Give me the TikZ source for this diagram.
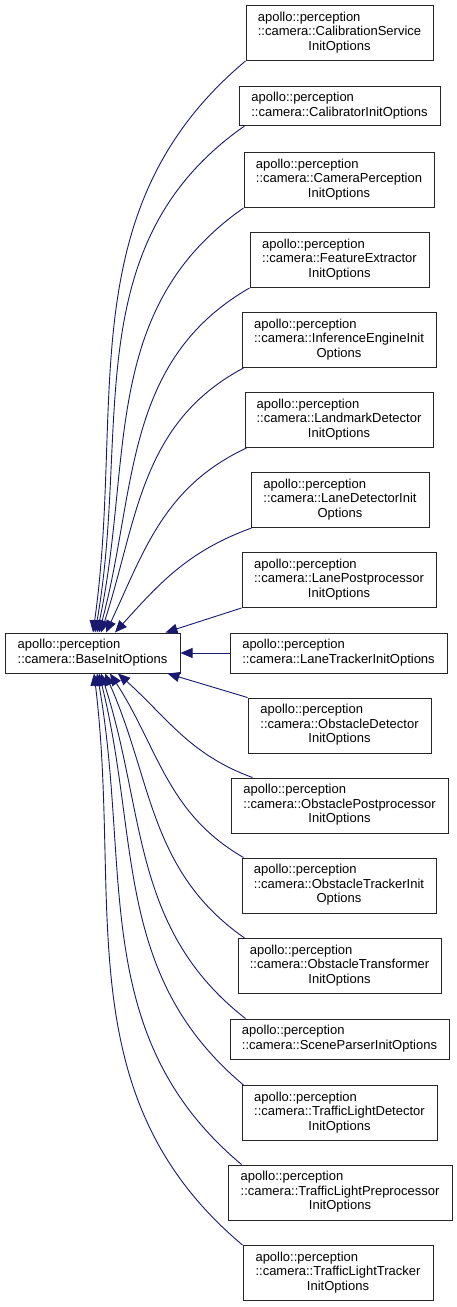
\documentclass[tikz,border=0pt]{standalone}
\usepackage{fontspec}
\setmainfont{Liberation Sans}
\usetikzlibrary{arrows.meta}
\definecolor{edgeblue}{RGB}{25,25,112}
\newcommand{\threel}[2]{\begin{tabular}{@{}l@{}}apollo::perception\\::camera::#1\\\multicolumn{1}{@{}c@{}}{#2}\end{tabular}}
\newcommand{\twol}[1]{\begin{tabular}{@{}l@{}}apollo::perception\\::camera::#1\end{tabular}}
\begin{document}
\begin{tikzpicture}[x=1pt,y=1pt,
  cls/.style={draw=black!85, line width=1pt, fill=white, inner sep=0pt, minimum height=55pt,
    font=\fontsize{13}{14.5}\selectfont},
  cls2/.style={cls, minimum height=40pt},
  edge/.style={draw=edgeblue, line width=0.9pt, {Triangle[length=12pt,width=10pt]}-}
]
\useasboundingbox (0,0) rectangle (456,-1307);
\fill[white] (0,0) rectangle (456,-1307);
\node[cls2, minimum width=175pt] (base) at (92.5,-653) {\twol{BaseInitOptions}};

\node[cls, minimum width=187pt] (d1) at (339.5,-33) {\threel{CalibrationService}{InitOptions}};
\node[cls2, minimum width=201pt, minimum height=39pt] (d2) at (339.5,-106) {\twol{CalibratorInitOptions}};
\node[cls, minimum width=190pt] (d3) at (339,-180) {\threel{CameraPerception}{InitOptions}};
\node[cls, minimum width=179pt] (d4) at (339.5,-260) {\threel{FeatureExtractor}{InitOptions}};
\node[cls, minimum width=194pt] (d5) at (339,-340) {\threel{InferenceEngineInit}{Options}};
\node[cls, minimum width=188pt] (d6) at (339,-420) {\threel{LandmarkDetector}{InitOptions}};
\node[cls, minimum width=178pt] (d7) at (340,-500) {\threel{LaneDetectorInit}{Options}};
\node[cls, minimum width=194pt] (d8) at (339,-580) {\threel{LanePostprocessor}{InitOptions}};
\node[cls2, minimum width=217pt] (d9) at (338.5,-653) {\twol{LaneTrackerInitOptions}};
\node[cls, minimum width=183pt] (d10) at (339.5,-725.5) {\threel{ObstacleDetector}{InitOptions}};
\node[cls, minimum width=217pt] (d11) at (339.5,-805.5) {\threel{ObstaclePostprocessor}{InitOptions}};
\node[cls, minimum width=194pt] (d12) at (339,-885.5) {\threel{ObstacleTrackerInit}{Options}};
\node[cls, minimum width=203pt] (d13) at (339.5,-966) {\threel{ObstacleTransformer}{InitOptions}};
\node[cls2, minimum width=219pt] (d14) at (339.5,-1039) {\twol{SceneParserInitOptions}};
\node[cls, minimum width=195pt] (d15) at (339.5,-1113) {\threel{TrafficLightDetector}{InitOptions}};
\node[cls, minimum width=224pt] (d16) at (340,-1192.5) {\threel{TrafficLightPreprocessor}{InitOptions}};
\node[cls, minimum width=190pt] (d17) at (338,-1273) {\threel{TrafficLightTracker}{InitOptions}};

% upper edges
\draw[edge] ([xshift=-87.5pt]base.north east) to[out=82,in=220] (d1.south west);
\draw[edge] ([xshift=-85.5pt]base.north east) to[out=80,in=215] ([xshift=6pt]d2.south west);
\draw[edge] ([xshift=-83.5pt]base.north east) to[out=78,in=215] (d3.south west);
\draw[edge] ([xshift=-81.5pt]base.north east) to[out=75,in=210] (d4.south west);
\draw[edge] ([xshift=-79.5pt]base.north east) to[out=72,in=208] ([xshift=2pt]d5.south west);
\draw[edge] ([xshift=-74.5pt]base.north east) to[out=65,in=205] ([xshift=2pt]d6.south west);
\draw[edge] ([xshift=-65.5pt]base.north east) to[out=48,in=200] ([xshift=1pt]d7.south west);
\draw[edge] ([xshift=-15pt]base.north east) -- (d8.south west);
\draw[edge] (base.east) -- (d9.west);
\draw[edge] ([xshift=-13pt]base.south east) -- (d10.north west);
% lower edges
\draw[edge] ([xshift=-62.5pt]base.south east) to[out=-42,in=160] ([xshift=22pt]d11.north west);
\draw[edge] ([xshift=-70.5pt]base.south east) to[out=-57,in=150] ([xshift=2pt]d12.north west);
\draw[edge] ([xshift=-75.5pt]base.south east) to[out=-66,in=145] ([xshift=7pt]d13.north west);
\draw[edge] ([xshift=-79.5pt]base.south east) to[out=-72,in=142] ([xshift=16pt]d14.north west);
\draw[edge] ([xshift=-81.5pt]base.south east) to[out=-76,in=140] ([xshift=2pt]d15.north west);
\draw[edge] ([xshift=-83.5pt]base.south east) to[out=-80,in=140] ([xshift=14pt]d16.north west);
\draw[edge] ([xshift=-86.5pt]base.south east) to[out=-83,in=140] (d17.north west);
\end{tikzpicture}
\end{document}
